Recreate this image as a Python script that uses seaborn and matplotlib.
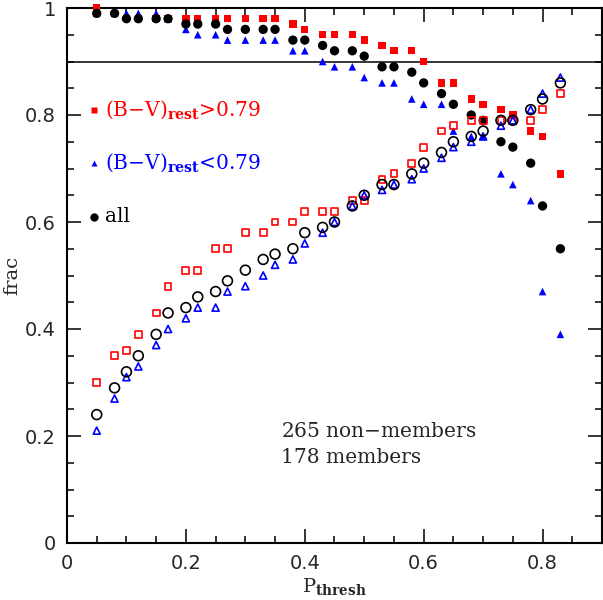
import numpy as np
import pandas as pd
import seaborn as sns
import matplotlib
matplotlib.use("Agg")
import matplotlib.pyplot as plt
from matplotlib.ticker import MultipleLocator

# P_thresh values
p_thresh = [0.05, 0.08, 0.10, 0.12, 0.15, 0.17, 0.20, 0.22, 0.25, 0.27, 0.30,
            0.33, 0.35, 0.38, 0.40, 0.43, 0.45, 0.48, 0.50, 0.53, 0.55, 0.58,
            0.60, 0.63, 0.65, 0.68, 0.70, 0.73, 0.75, 0.78, 0.80, 0.83]

# filled symbols (upper curves)
red_filled = [1.00, 0.99, 0.98, 0.98, 0.98, 0.98, 0.98, 0.98, 0.98, 0.98, 0.98,
              0.98, 0.98, 0.97, 0.96, 0.95, 0.95, 0.95, 0.94, 0.93, 0.92, 0.92,
              0.90, 0.86, 0.86, 0.83, 0.82, 0.81, 0.80, 0.77, 0.76, 0.69]
blue_filled = [0.99, 0.99, 0.99, 0.99, 0.99, 0.98, 0.96, 0.95, 0.95, 0.94, 0.94,
               0.94, 0.94, 0.92, 0.92, 0.90, 0.89, 0.89, 0.87, 0.86, 0.86, 0.83,
               0.82, 0.82, 0.77, 0.76, 0.76, 0.69, 0.67, 0.64, 0.47, 0.39]
all_filled = [0.99, 0.99, 0.98, 0.98, 0.98, 0.98, 0.97, 0.97, 0.97, 0.96, 0.96,
              0.96, 0.96, 0.94, 0.94, 0.93, 0.92, 0.92, 0.91, 0.89, 0.89, 0.88,
              0.86, 0.84, 0.82, 0.80, 0.79, 0.75, 0.74, 0.71, 0.63, 0.55]

# open symbols (lower curves)
red_open = [0.30, 0.35, 0.36, 0.39, 0.43, 0.48, 0.51, 0.51, 0.55, 0.55, 0.58,
            0.58, 0.60, 0.60, 0.62, 0.62, 0.62, 0.64, 0.64, 0.68, 0.69, 0.71,
            0.74, 0.77, 0.78, 0.79, 0.79, 0.79, 0.79, 0.79, 0.81, 0.84]
blue_open = [0.21, 0.27, 0.31, 0.33, 0.37, 0.40, 0.42, 0.44, 0.44, 0.47, 0.48,
             0.50, 0.52, 0.53, 0.56, 0.58, 0.60, 0.63, 0.65, 0.66, 0.67, 0.68,
             0.70, 0.72, 0.74, 0.75, 0.76, 0.78, 0.79, 0.81, 0.84, 0.87]
all_open = [0.24, 0.29, 0.32, 0.35, 0.39, 0.43, 0.44, 0.46, 0.47, 0.49, 0.51,
            0.53, 0.54, 0.55, 0.58, 0.59, 0.60, 0.63, 0.65, 0.67, 0.67, 0.69,
            0.71, 0.73, 0.75, 0.76, 0.77, 0.79, 0.79, 0.81, 0.83, 0.86]

legend_labels = [r"(B$-$V)$_{\mathbf{rest}}$>0.79",
                 r"(B$-$V)$_{\mathbf{rest}}$<0.79",
                 "all"]
n_nonmem = 265
n_mem = 178

RED = "#ff0000"
BLUE = "#0000ff"
BLACK = "#000000"

sns.set_style("ticks")
plt.rcParams["font.family"] = ["DejaVu Serif"]
plt.rcParams["mathtext.fontset"] = "dejavuserif"

df = pd.DataFrame({"p": p_thresh,
                   "red_f": red_filled, "blue_f": blue_filled, "all_f": all_filled,
                   "red_o": red_open, "blue_o": blue_open, "all_o": all_open})

fig = plt.figure(figsize=(6.03, 6.00), dpi=100)
ax = fig.add_axes([67 / 603, 57 / 600, 535 / 603, 535 / 600])

# upper (filled) curves
sns.scatterplot(data=df, x="p", y="red_f", marker="s", s=28, color=RED,
                edgecolor="none", ax=ax, zorder=3, clip_on=False)
sns.scatterplot(data=df, x="p", y="blue_f", marker="^", s=30, color=BLUE,
                edgecolor="none", ax=ax, zorder=3, clip_on=False)
sns.scatterplot(data=df, x="p", y="all_f", marker="o", s=45, color=BLACK,
                edgecolor="none", ax=ax, zorder=3, clip_on=False)

# lower (open) curves
sns.scatterplot(data=df, x="p", y="red_o", marker="s", s=24, facecolors="none",
                edgecolor=RED, linewidth=1.2, ax=ax, zorder=3)
sns.scatterplot(data=df, x="p", y="blue_o", marker="^", s=26, facecolors="none",
                edgecolor=BLUE, linewidth=1.2, ax=ax, zorder=3)
sns.scatterplot(data=df, x="p", y="all_o", marker="o", s=50, facecolors="none",
                edgecolor=BLACK, linewidth=1.2, ax=ax, zorder=3)

ax.axhline(0.9, color="black", lw=1.1, zorder=2)

# legend, drawn by hand like the original
leg_y = [0.81, 0.71, 0.61]
leg_mk = ["s", "^", "o"]
leg_col = [RED, BLUE, BLACK]
for yy, mk, col, lab in zip(leg_y, leg_mk, leg_col, legend_labels):
    ax.plot([0.045], [yy], marker=mk, ms=5 if mk != "o" else 6, color=col,
            mec="none", ls="none")
    ax.text(0.064, yy, lab, color=col, fontsize=14.5, va="center", ha="left")

ax.text(0.36, 0.198, f"{n_nonmem} non$-$members", fontsize=14.5, ha="left",
        va="baseline")
ax.text(0.36, 0.150, f"{n_mem} members", fontsize=14.5, ha="left", va="baseline")

ax.set_xlim(0, 0.9)
ax.set_ylim(0, 1)
ax.xaxis.set_minor_locator(MultipleLocator(0.05))
ax.yaxis.set_minor_locator(MultipleLocator(0.05))
ax.set_xticks([0, 0.2, 0.4, 0.6, 0.8])
ax.set_xticklabels(["0", "0.2", "0.4", "0.6", "0.8"])
ax.set_yticks([0, 0.2, 0.4, 0.6, 0.8, 1.0])
ax.set_yticklabels(["0", "0.2", "0.4", "0.6", "0.8", "1"])
ax.tick_params(which="both", direction="in", top=True, right=True,
               labelsize=14, pad=8, width=1.1, color="black")
ax.tick_params(which="major", length=10)
ax.tick_params(which="minor", length=5)
for lab in ax.get_xticklabels() + ax.get_yticklabels():
    lab.set_fontfamily("DejaVu Sans")

for sp in ax.spines.values():
    sp.set_visible(True)
    sp.set_linewidth(1.5)
    sp.set_color("black")

ax.set_xlabel(r"P$_{\mathbf{thresh}}$", fontsize=14, labelpad=2)
ax.set_ylabel("frac", fontsize=14, labelpad=3)

fig.savefig("out.png", dpi=100)
